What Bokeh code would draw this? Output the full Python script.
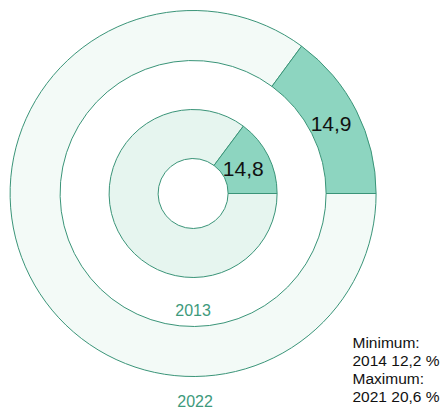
import math
from bokeh.plotting import figure
from bokeh.models import Range1d
from bokeh.embed import file_html
from bokeh.resources import INLINE
from bokeh.core.properties import value

years = ["2013", "2022"]
shares = [14.8, 14.9]
value_labels = ["14,8", "14,9"]
note_lines = ["Minimum:", "2014 12,2 %", "Maximum:", "2021 20,6 %"]

W, H = 444, 408
p = figure(width=W, height=H, output_backend="svg", toolbar_location=None,
           x_range=Range1d(0, W), y_range=Range1d(408 - H, 408),
           min_border=0, outline_line_color=None)
p.axis.visible = False
p.grid.visible = False
p.background_fill_color = "white"

cx, cy = 192.6, 408 - 193.0
rings = [(35, 84, "#e6f5ef"), (133, 183, "#f3faf7")]
hi = "#8dd5c0"
stroke = "#3a9478"

for i, (ri, ro, rest) in enumerate(rings):
    a = shares[i] / 100 * 2 * math.pi
    p.annular_wedge(x=[cx], y=[cy], inner_radius=ri, outer_radius=ro,
                    start_angle=a, end_angle=2 * math.pi, direction="anticlock",
                    fill_color=rest, line_color=stroke, line_width=1)
    p.annular_wedge(x=[cx], y=[cy], inner_radius=ri, outer_radius=ro,
                    start_angle=0, end_angle=a, direction="anticlock",
                    fill_color=hi, line_color=stroke, line_width=1)
    mid = a / 2
    rm = (ri + ro) / 2
    p.text(x=[cx + rm * math.cos(mid) - 3], y=[cy + rm * math.sin(mid) - 2],
           text=[value_labels[i]], text_font=value("Liberation Sans"),
           text_font_size="21px", text_color="#111111",
           text_align="center", text_baseline="middle")

# year labels
p.text(x=[cx], y=[408 - 309], text=[years[0]], text_font=value("Liberation Sans"),
       text_font_size="16px", text_color="#3d9a7c",
       text_align="center", text_baseline="middle")
p.text(x=[cx + 2], y=[408 - 400], text=[years[1]], text_font=value("Liberation Sans"),
       text_font_size="16px", text_color="#3d9a7c",
       text_align="center", text_baseline="middle")

# note
ys = [342, 360, 378, 396]
p.text(x=[352] * 4, y=[408 - y for y in ys], text=note_lines,
       text_font=value("Liberation Sans"), text_font_size="15.5px",
       text_color="#111111", text_align="left", text_baseline="middle")

open("out.html", "w").write(file_html(p, INLINE))
